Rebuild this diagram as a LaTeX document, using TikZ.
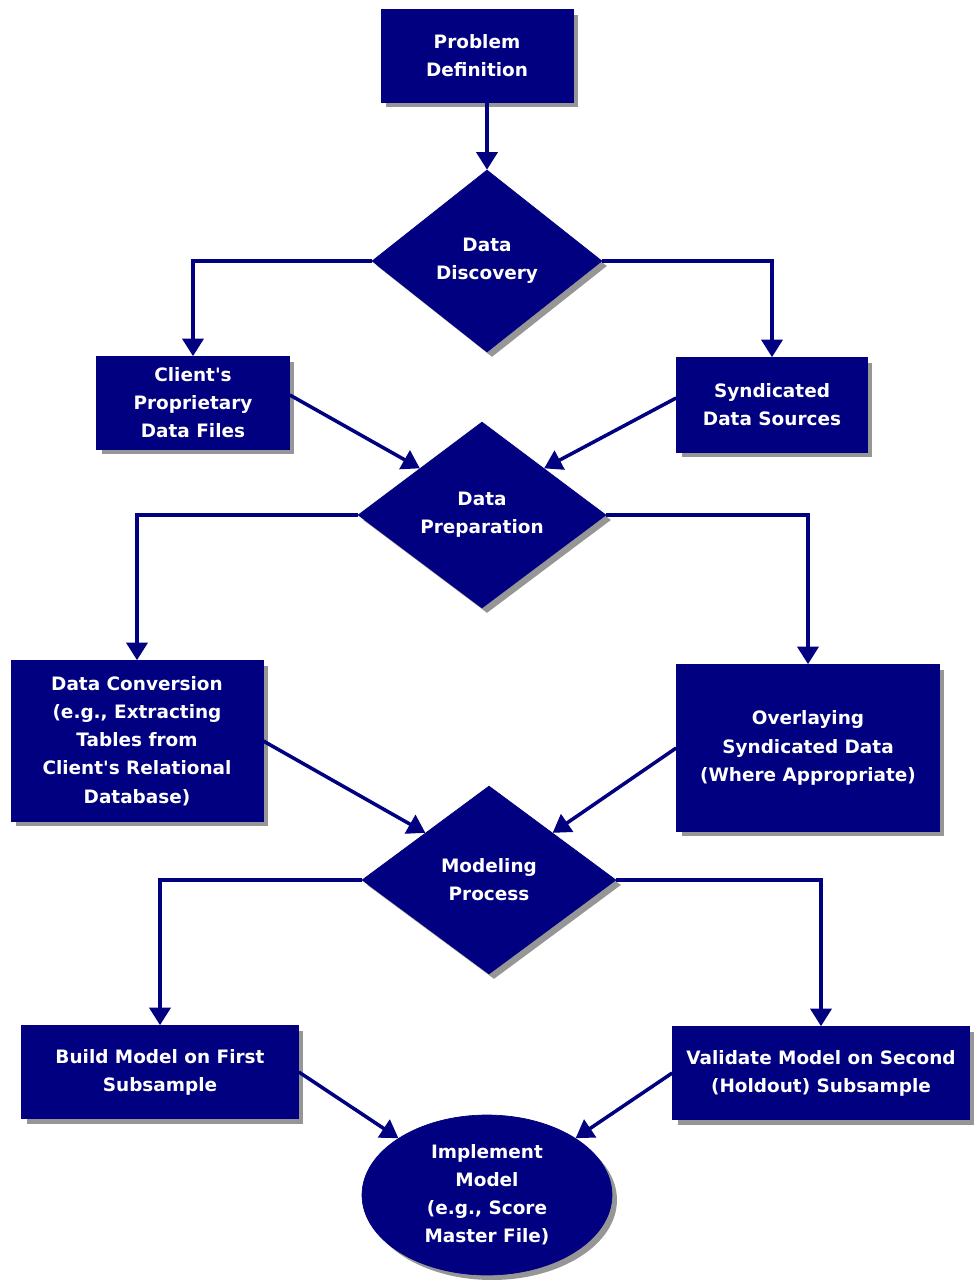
\documentclass[tikz,border=0pt]{standalone}
\usepackage{fontspec}
\setmainfont{DejaVu Sans}
\usetikzlibrary{shapes.geometric,shadows,arrows.meta}
\definecolor{navyfill}{RGB}{0,0,128}
\definecolor{shadowgray}{RGB}{150,150,150}
\tikzset{
  box/.style={draw=navyfill, fill=navyfill, text=white, align=center, inner sep=0pt,
    font=\bfseries\fontsize{10.5}{16}\selectfont,
    drop shadow={shadow xshift=0.1cm, shadow yshift=-0.1cm, fill=shadowgray, opacity=1}},
  blk/.style={box, rectangle},
  dec/.style={box, diamond},
  flow/.style={draw=navyfill, line width=2pt, -{Triangle[width=12pt,length=10pt]}}
}
\begin{document}
\begin{tikzpicture}[x=0.02cm,y=-0.02cm]
\useasboundingbox (0,0) rectangle (977,1287);
%%% first row: problem and discovery
\node[blk, minimum width=3.84cm, minimum height=1.86cm] (probdef) at (477,56) {Problem\\Definition};
\node[dec, minimum width=4.6cm, minimum height=3.64cm] (disc) at (487,261) {Data\\Discovery};
\node[blk, minimum width=3.86cm, minimum height=1.86cm] (client) at (193,403)
  {Client\textquotesingle s\\Proprietary\\Data Files};
\node[blk, minimum width=3.82cm, minimum height=1.9cm] (synd) at (772,405) {Syndicated\\Data Sources};
%%% preparation
\node[dec, minimum width=4.96cm, minimum height=3.72cm] (prep) at (482,515) {Data\\Preparation};
\node[blk, minimum width=5.04cm, minimum height=3.22cm] (conv) at (137,741)
  {Data Conversion\\(e.g., Extracting\\Tables from\\Client\textquotesingle s Relational\\Database)};
\node[blk, minimum width=5.26cm, minimum height=3.34cm] (overlay) at (808,748)
  {Overlaying\\Syndicated Data\\(Where Appropriate)};
%%% modeling
\node[dec, minimum width=5.08cm, minimum height=3.76cm] (model) at (489,880) {Modeling\\Process};
\node[blk, minimum width=5.54cm, minimum height=1.86cm] (build) at (160,1072) {Build Model on First\\Subsample};
\node[blk, minimum width=5.94cm, minimum height=1.86cm] (valid) at (821,1073)
  {Validate Model on Second\\(Holdout) Subsample};
\node[box, ellipse, minimum width=5cm, minimum height=3.2cm] (impl) at (487,1195)
  {Implement\\Model\\(e.g., Score\\Master File)};
%
\draw[flow] (probdef.south -| disc.north) -- (disc.north);
\draw[flow] (disc.west) -| (client.north);
\draw[flow] (disc.east) -| (synd.north);
\draw[flow] ([yshift=0.16cm]client.east) -- (prep.north west);
\draw[flow] ([yshift=0.14cm]synd.west) -- (prep.north east);
\draw[flow] (prep.west) -| (conv.north);
\draw[flow] (prep.east) -| (overlay.north);
\draw[flow] (conv.east) -- (model.north west);
\draw[flow] (overlay.west) -- (model.north east);
\draw[flow] (model.west) -| (build.north);
\draw[flow] (model.east) -| (valid.north);
\draw[flow] (build.east) -- (impl.north west);
\draw[flow] (valid.west) -- (impl.north east);
\end{tikzpicture}
\end{document}
